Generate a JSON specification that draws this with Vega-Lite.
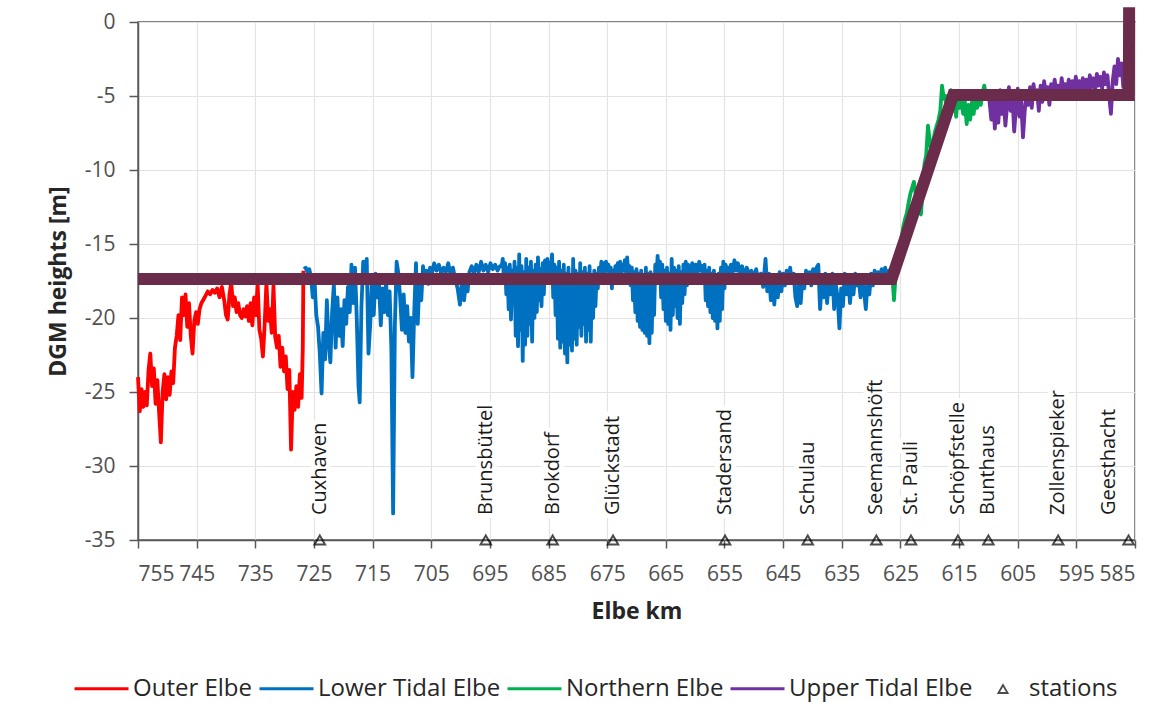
{
  "$schema": "https://vega.github.io/schema/vega-lite/v6.json",
  "width": 997,
  "height": 518,
  "autosize": {"type": "none"},
  "padding": {"left": 138, "top": 22, "right": 22, "bottom": 162},
  "background": "white",
  "config": {
    "font": "Open Sans",
    "view": {"stroke": "#595959", "strokeWidth": 1.5},
    "axis": {
      "grid": true,
      "gridColor": "#e3e3e3",
      "gridWidth": 1.2,
      "domainColor": "#595959",
      "domainWidth": 1.5,
      "tickColor": "#595959",
      "tickWidth": 1.5,
      "labelFontSize": 21,
      "labelColor": "#505050",
      "titleFontSize": 23,
      "titleFontWeight": "bold",
      "titleColor": "#262626",
      "labelExpr": "replace(datum.label, '\u2212', '-')"
    }
  },
  "datasets": {
    "outer": [
      {"k":755.0,"z":-24.0},{"k":754.7,"z":-26.3},{"k":754.4,"z":-24.8},{"k":754.1,"z":-26.0},{"k":753.8,"z":-25.0},{"k":753.5,"z":-25.9},{"k":753.2,"z":-23.5},{"k":752.9,"z":-22.4},{"k":752.6,"z":-24.6},{"k":752.3,"z":-23.4},{"k":752.0,"z":-25.8},{"k":751.7,"z":-24.2},{"k":751.4,"z":-26.4},{"k":751.1,"z":-28.4},{"k":750.8,"z":-25.0},{"k":750.5,"z":-23.8},{"k":750.2,"z":-25.5},{"k":749.9,"z":-24.0},{"k":749.6,"z":-25.2},{"k":749.3,"z":-23.6},{"k":749.0,"z":-24.4},{"k":748.7,"z":-22.0},{"k":748.4,"z":-21.2},{"k":748.1,"z":-19.8},{"k":747.8,"z":-21.5},{"k":747.5,"z":-18.6},{"k":747.2,"z":-19.8},{"k":746.9,"z":-18.4},{"k":746.6,"z":-20.6},{"k":746.3,"z":-19.0},{"k":746.0,"z":-21.2},{"k":745.7,"z":-22.4},{"k":745.4,"z":-20.2},{"k":745.1,"z":-19.6},{"k":744.8,"z":-20.4},{"k":744.5,"z":-19.4},{"k":744.2,"z":-19.0},{"k":743.9,"z":-18.8},{"k":743.5,"z":-18.5},{"k":743.1,"z":-18.2},{"k":742.7,"z":-18.4},{"k":742.3,"z":-18.1},{"k":741.9,"z":-18.3},{"k":741.5,"z":-18.0},{"k":741.1,"z":-18.6},{"k":740.7,"z":-17.9},{"k":740.3,"z":-18.8},{"k":740.0,"z":-19.8},{"k":739.7,"z":-20.1},{"k":739.4,"z":-18.4},{"k":739.1,"z":-17.6},{"k":738.8,"z":-19.2},{"k":738.5,"z":-18.6},{"k":738.2,"z":-19.6},{"k":737.9,"z":-19.0},{"k":737.6,"z":-19.8},{"k":737.3,"z":-20.0},{"k":737.0,"z":-19.4},{"k":736.7,"z":-19.9},{"k":736.4,"z":-19.2},{"k":736.1,"z":-20.2},{"k":735.8,"z":-19.0},{"k":735.5,"z":-20.5},{"k":735.2,"z":-18.6},{"k":734.9,"z":-19.8},{"k":734.6,"z":-17.7},{"k":734.3,"z":-20.8},{"k":734.0,"z":-21.4},{"k":733.7,"z":-22.6},{"k":733.4,"z":-20.4},{"k":733.1,"z":-17.6},{"k":732.8,"z":-20.2},{"k":732.5,"z":-19.4},{"k":732.2,"z":-21.0},{"k":731.9,"z":-17.8},{"k":731.6,"z":-21.3},{"k":731.3,"z":-22.0},{"k":731.0,"z":-21.2},{"k":730.7,"z":-23.3},{"k":730.4,"z":-22.0},{"k":730.1,"z":-23.6},{"k":729.8,"z":-22.6},{"k":729.5,"z":-24.8},{"k":729.2,"z":-23.5},{"k":728.9,"z":-28.9},{"k":728.6,"z":-25.0},{"k":728.3,"z":-26.2},{"k":728.0,"z":-24.6},{"k":727.7,"z":-26.0},{"k":727.4,"z":-23.8},{"k":727.1,"z":-25.4},{"k":726.9,"z":-22.0},{"k":726.8,"z":-16.8}
    ],
    "lower": [
      {"k":726.7,"z":-16.7},{"k":726.4,"z":-16.6},{"k":726.1,"z":-16.9},{"k":725.8,"z":-16.7},{"k":725.5,"z":-17.2},{"k":725.2,"z":-18.6},{"k":724.9,"z":-17.4},{"k":724.6,"z":-19.8},{"k":724.3,"z":-20.6},{"k":724.0,"z":-22.4},{"k":723.7,"z":-25.1},{"k":723.4,"z":-21.0},{"k":723.1,"z":-22.8},{"k":722.8,"z":-18.8},{"k":722.5,"z":-21.6},{"k":722.2,"z":-23.0},{"k":721.9,"z":-19.6},{"k":721.6,"z":-17.7},{"k":721.3,"z":-22.0},{"k":721.0,"z":-18.6},{"k":720.7,"z":-21.2},{"k":720.4,"z":-19.4},{"k":720.1,"z":-21.9},{"k":719.8,"z":-18.8},{"k":719.5,"z":-20.4},{"k":719.2,"z":-17.9},{"k":718.9,"z":-19.6},{"k":718.6,"z":-16.4},{"k":718.3,"z":-19.0},{"k":718.0,"z":-16.6},{"k":717.7,"z":-20.0},{"k":717.4,"z":-24.6},{"k":717.2,"z":-25.7},{"k":716.9,"z":-19.2},{"k":716.6,"z":-16.2},{"k":716.3,"z":-17.4},{"k":716.0,"z":-16.0},{"k":715.7,"z":-22.4},{"k":715.4,"z":-20.4},{"k":715.1,"z":-17.2},{"k":714.8,"z":-19.8},{"k":714.5,"z":-17.0},{"k":714.2,"z":-18.6},{"k":713.9,"z":-17.6},{"k":713.6,"z":-20.5},{"k":713.3,"z":-18.0},{"k":713.0,"z":-19.6},{"k":712.7,"z":-17.5},{"k":712.4,"z":-19.8},{"k":712.1,"z":-18.2},{"k":711.8,"z":-22.0},{"k":711.5,"z":-33.2},{"k":711.2,"z":-20.5},{"k":710.9,"z":-16.2},{"k":710.6,"z":-17.0},{"k":710.3,"z":-18.6},{"k":710.0,"z":-20.8},{"k":709.7,"z":-18.4},{"k":709.4,"z":-21.0},{"k":709.1,"z":-19.2},{"k":708.8,"z":-21.6},{"k":708.5,"z":-20.0},{"k":708.2,"z":-24.0},{"k":707.9,"z":-19.6},{"k":707.6,"z":-16.3},{"k":707.3,"z":-20.4},{"k":707.0,"z":-17.2},{"k":706.7,"z":-18.8},{"k":706.4,"z":-16.5},{"k":706.1,"z":-17.6},{"k":705.8,"z":-16.8},{"k":705.5,"z":-17.7},{"k":705.2,"z":-16.6},{"k":704.9,"z":-17.0},{"k":704.5,"z":-16.3},{"k":704.1,"z":-16.8},{"k":703.7,"z":-16.4},{"k":703.3,"z":-17.0},{"k":702.9,"z":-16.6},{"k":702.5,"z":-16.9},{"k":702.1,"z":-16.3},{"k":701.7,"z":-17.1},{"k":701.3,"z":-16.6},{"k":700.9,"z":-17.4},{"k":700.5,"z":-18.0},{"k":700.1,"z":-19.1},{"k":699.7,"z":-17.2},{"k":699.4,"z":-18.8},{"k":699.1,"z":-17.6},{"k":698.8,"z":-18.2},{"k":698.5,"z":-16.9},{"k":698.1,"z":-16.5},{"k":697.7,"z":-17.0},{"k":697.3,"z":-16.4},{"k":696.9,"z":-16.9},{"k":696.5,"z":-16.2},{"k":696.1,"z":-16.8},{"k":695.7,"z":-16.4},{"k":695.3,"z":-16.9},{"k":694.9,"z":-16.3},{"k":694.5,"z":-16.7},{"k":694.1,"z":-16.4},{"k":693.7,"z":-16.8},{"k":693.3,"z":-16.5},
      {"k":693.0,"z":-16.5},{"k":692.8,"z":-16.0},{"k":692.6,"z":-17.4},{"k":692.4,"z":-16.3},{"k":692.2,"z":-18.4},{"k":692.0,"z":-16.6},{"k":691.8,"z":-19.4},{"k":691.6,"z":-16.4},{"k":691.4,"z":-20.1},{"k":691.2,"z":-16.8},{"k":691.0,"z":-19.0},{"k":690.8,"z":-16.2},{"k":690.6,"z":-21.2},{"k":690.4,"z":-16.6},{"k":690.2,"z":-21.9},{"k":690.0,"z":-15.7},{"k":689.8,"z":-20.8},{"k":689.6,"z":-16.5},{"k":689.4,"z":-22.9},{"k":689.2,"z":-16.9},{"k":689.0,"z":-21.8},{"k":688.8,"z":-16.0},{"k":688.6,"z":-21.2},{"k":688.4,"z":-16.6},{"k":688.2,"z":-20.4},{"k":688.0,"z":-16.2},{"k":687.8,"z":-21.6},{"k":687.6,"z":-16.8},{"k":687.4,"z":-20.0},{"k":687.2,"z":-16.4},{"k":687.0,"z":-19.6},{"k":686.8,"z":-15.9},{"k":686.6,"z":-18.8},{"k":686.4,"z":-16.7},{"k":686.2,"z":-19.2},{"k":686.0,"z":-16.3},{"k":685.8,"z":-18.4},{"k":685.6,"z":-16.1},{"k":685.4,"z":-17.4},{"k":685.2,"z":-16.0},{"k":685.0,"z":-16.9},{"k":684.8,"z":-16.3},{"k":684.6,"z":-17.0},{"k":684.4,"z":-15.7},{"k":684.2,"z":-18.6},{"k":684.0,"z":-16.4},{"k":683.8,"z":-19.8},{"k":683.6,"z":-16.6},{"k":683.4,"z":-21.4},{"k":683.2,"z":-16.2},{"k":683.0,"z":-22.0},{"k":682.8,"z":-16.8},{"k":682.6,"z":-21.6},{"k":682.4,"z":-16.4},{"k":682.2,"z":-22.4},{"k":682.0,"z":-17.0},{"k":681.8,"z":-23.0},{"k":681.6,"z":-16.6},{"k":681.4,"z":-21.8},{"k":681.2,"z":-17.2},{"k":681.0,"z":-22.2},{"k":680.8,"z":-16.0},{"k":680.6,"z":-21.4},{"k":680.4,"z":-16.8},{"k":680.2,"z":-21.8},{"k":680.0,"z":-17.0},{"k":679.8,"z":-20.6},{"k":679.6,"z":-16.3},{"k":679.4,"z":-21.2},{"k":679.2,"z":-16.9},{"k":679.0,"z":-20.4},{"k":678.8,"z":-16.6},{"k":678.6,"z":-21.6},{"k":678.4,"z":-17.0},{"k":678.2,"z":-20.8},{"k":678.0,"z":-16.5},{"k":677.8,"z":-21.6},{"k":677.6,"z":-17.2},{"k":677.4,"z":-20.0},{"k":677.2,"z":-16.8},{"k":677.0,"z":-19.2},{"k":676.8,"z":-17.0},{"k":676.6,"z":-18.0},{"k":676.4,"z":-16.6},{"k":676.2,"z":-17.4},{"k":676.0,"z":-16.2},{"k":675.8,"z":-16.9},{"k":675.6,"z":-16.3},{"k":675.4,"z":-17.0},{"k":675.2,"z":-16.2},{"k":675.0,"z":-16.8},{"k":674.8,"z":-16.4},{"k":674.6,"z":-17.2},{"k":674.4,"z":-16.6},{"k":674.2,"z":-18.0},{"k":674.0,"z":-16.8},{"k":673.8,"z":-17.4},{"k":673.6,"z":-16.5},{"k":673.4,"z":-17.0},{"k":673.2,"z":-16.3},{"k":673.0,"z":-16.9},{"k":672.8,"z":-16.2},{"k":672.6,"z":-17.0},{"k":672.4,"z":-16.4},{"k":672.2,"z":-16.8},{"k":672.0,"z":-16.1},{"k":671.8,"z":-16.9},{"k":671.6,"z":-15.9},{"k":671.4,"z":-17.0},{"k":671.2,"z":-16.5},{"k":671.0,"z":-17.8},{"k":670.8,"z":-16.6},{"k":670.6,"z":-18.8},{"k":670.4,"z":-16.9},{"k":670.2,"z":-19.6},{"k":670.0,"z":-16.7},{"k":669.8,"z":-20.2},{"k":669.6,"z":-17.0},{"k":669.4,"z":-20.6},{"k":669.2,"z":-16.8},{"k":669.0,"z":-20.8},{"k":668.8,"z":-17.2},{"k":668.6,"z":-21.0},{"k":668.4,"z":-16.6},{"k":668.2,"z":-21.2},{"k":668.0,"z":-17.0},{"k":667.8,"z":-21.7},{"k":667.6,"z":-16.9},{"k":667.4,"z":-21.0},{"k":667.2,"z":-17.4},{"k":667.0,"z":-19.8},{"k":666.8,"z":-16.4},{"k":666.6,"z":-17.6},{"k":666.4,"z":-15.8},{"k":666.2,"z":-17.2},{"k":666.0,"z":-16.2},{"k":665.8,"z":-18.6},{"k":665.6,"z":-16.4},{"k":665.4,"z":-19.4},{"k":665.2,"z":-16.8},{"k":665.0,"z":-20.2},{"k":664.8,"z":-16.6},{"k":664.6,"z":-20.4},{"k":664.4,"z":-17.0},{"k":664.2,"z":-20.8},{"k":664.0,"z":-16.0},{"k":663.8,"z":-19.8},{"k":663.6,"z":-16.6},{"k":663.4,"z":-19.2},{"k":663.2,"z":-16.8},{"k":663.0,"z":-20.0},{"k":662.8,"z":-16.5},{"k":662.6,"z":-20.4},{"k":662.4,"z":-16.9},{"k":662.2,"z":-19.0},{"k":662.0,"z":-16.4},{"k":661.8,"z":-18.4},{"k":661.6,"z":-16.2},{"k":661.4,"z":-17.8},{"k":661.2,"z":-16.4},{"k":661.0,"z":-17.0},
      {"k":660.8,"z":-17.0},{"k":660.5,"z":-16.3},{"k":660.2,"z":-16.9},{"k":659.9,"z":-16.4},{"k":659.6,"z":-17.0},{"k":659.3,"z":-16.2},{"k":659.0,"z":-16.8},{"k":658.8,"z":-16.5},{"k":658.6,"z":-17.6},{"k":658.4,"z":-16.4},{"k":658.2,"z":-18.8},{"k":658.0,"z":-16.8},{"k":657.8,"z":-19.2},{"k":657.6,"z":-16.6},{"k":657.4,"z":-19.6},{"k":657.2,"z":-17.0},{"k":657.0,"z":-20.0},{"k":656.8,"z":-16.8},{"k":656.6,"z":-20.2},{"k":656.4,"z":-17.2},{"k":656.2,"z":-20.7},{"k":656.0,"z":-17.0},{"k":655.8,"z":-20.2},{"k":655.6,"z":-16.6},{"k":655.4,"z":-19.4},{"k":655.2,"z":-16.2},{"k":655.0,"z":-18.0},{"k":654.8,"z":-16.4},{"k":654.6,"z":-17.2},{"k":654.4,"z":-16.6},
      {"k":654.2,"z":-17.2},{"k":653.9,"z":-16.4},{"k":653.6,"z":-16.9},{"k":653.3,"z":-16.1},{"k":653.0,"z":-16.8},{"k":652.7,"z":-16.3},{"k":652.4,"z":-17.0},{"k":652.0,"z":-16.5},{"k":651.6,"z":-17.2},{"k":651.2,"z":-16.6},{"k":650.8,"z":-17.0},{"k":650.4,"z":-16.8},{"k":650.0,"z":-17.4},{"k":649.6,"z":-16.7},{"k":649.2,"z":-17.6},{"k":648.8,"z":-17.0},{"k":648.4,"z":-17.9},{"k":648.0,"z":-16.0},{"k":647.7,"z":-18.2},{"k":647.4,"z":-17.0},{"k":647.1,"z":-18.8},{"k":646.8,"z":-17.4},{"k":646.5,"z":-19.1},{"k":646.2,"z":-17.2},{"k":645.9,"z":-18.6},{"k":645.6,"z":-16.9},{"k":645.3,"z":-18.2},{"k":645.0,"z":-17.0},{"k":644.7,"z":-17.8},{"k":644.4,"z":-16.8},{"k":644.1,"z":-17.4},{"k":643.8,"z":-16.6},{"k":643.5,"z":-17.6},{"k":643.2,"z":-17.0},{"k":642.9,"z":-18.6},{"k":642.6,"z":-19.2},{"k":642.3,"z":-17.4},{"k":642.0,"z":-19.0},{"k":641.7,"z":-17.2},{"k":641.4,"z":-18.0},{"k":641.1,"z":-16.8},{"k":640.8,"z":-17.6},{"k":640.5,"z":-16.9},{"k":640.2,"z":-17.8},{"k":639.9,"z":-16.7},{"k":639.6,"z":-17.4},{"k":639.3,"z":-16.6},{"k":639.0,"z":-16.4},{"k":638.7,"z":-19.4},{"k":638.4,"z":-17.6},{"k":638.1,"z":-18.6},{"k":637.8,"z":-17.0},{"k":637.5,"z":-19.0},{"k":637.2,"z":-17.4},{"k":636.9,"z":-18.4},{"k":636.6,"z":-17.0},{"k":636.3,"z":-19.4},{"k":636.0,"z":-17.8},{"k":635.7,"z":-18.6},{"k":635.4,"z":-20.7},{"k":635.1,"z":-18.0},{"k":634.8,"z":-19.2},{"k":634.5,"z":-17.0},{"k":634.2,"z":-18.4},{"k":633.9,"z":-17.2},{"k":633.6,"z":-19.0},{"k":633.3,"z":-17.6},{"k":633.0,"z":-18.4},{"k":632.7,"z":-17.0},{"k":632.4,"z":-17.8},{"k":632.1,"z":-17.4},{"k":631.8,"z":-18.6},{"k":631.5,"z":-17.2},{"k":631.2,"z":-18.2},{"k":630.9,"z":-19.4},{"k":630.6,"z":-17.6},{"k":630.3,"z":-18.4},{"k":630.0,"z":-17.0},{"k":629.7,"z":-17.8},{"k":629.4,"z":-16.8},{"k":629.1,"z":-17.6},{"k":628.8,"z":-16.9},{"k":628.5,"z":-17.4},{"k":628.2,"z":-16.7},{"k":627.9,"z":-17.2},{"k":627.6,"z":-16.6},{"k":627.3,"z":-17.4},{"k":627.0,"z":-16.8},{"k":626.7,"z":-17.6},{"k":626.4,"z":-17.0}
    ],
    "northern": [
      {"k":626.4,"z":-17.0},{"k":626.1,"z":-18.8},{"k":625.9,"z":-17.6},{"k":625.7,"z":-16.0},{"k":625.4,"z":-15.6},{"k":625.1,"z":-15.0},{"k":624.8,"z":-14.6},{"k":624.5,"z":-13.8},{"k":624.2,"z":-13.3},{"k":623.9,"z":-12.9},{"k":623.6,"z":-12.2},{"k":623.3,"z":-11.6},{"k":623.0,"z":-11.2},{"k":622.7,"z":-10.8},{"k":622.4,"z":-11.6},{"k":622.1,"z":-12.0},{"k":621.8,"z":-12.8},{"k":621.5,"z":-13.0},{"k":621.2,"z":-11.4},{"k":620.9,"z":-9.6},{"k":620.6,"z":-9.0},{"k":620.3,"z":-7.0},{"k":620.0,"z":-8.0},{"k":619.7,"z":-8.8},{"k":619.4,"z":-8.0},{"k":619.1,"z":-7.4},{"k":618.8,"z":-7.0},{"k":618.5,"z":-6.6},{"k":618.2,"z":-6.0},{"k":617.9,"z":-4.3},{"k":617.6,"z":-5.2},{"k":617.3,"z":-5.0},{"k":617.0,"z":-6.4},{"k":616.7,"z":-5.4},{"k":616.4,"z":-4.6},{"k":616.1,"z":-6.0},{"k":615.8,"z":-5.2},{"k":615.5,"z":-6.4},{"k":615.2,"z":-5.0},{"k":614.9,"z":-5.8},{"k":614.6,"z":-5.2},{"k":614.3,"z":-6.2},{"k":614.0,"z":-5.4},{"k":613.7,"z":-6.9},{"k":613.4,"z":-5.6},{"k":613.1,"z":-6.6},{"k":612.8,"z":-5.4},{"k":612.5,"z":-6.2},{"k":612.2,"z":-5.0},{"k":611.9,"z":-5.8},{"k":611.6,"z":-4.9},{"k":611.3,"z":-5.6},{"k":611.0,"z":-4.8},{"k":610.7,"z":-4.3},{"k":610.4,"z":-5.0},{"k":610.1,"z":-4.6}
    ],
    "upper": [
      {"k":610.1,"z":-4.6},{"k":609.8,"z":-5.4},{"k":609.5,"z":-6.6},{"k":609.2,"z":-5.0},{"k":608.9,"z":-7.2},{"k":608.6,"z":-5.4},{"k":608.3,"z":-6.8},{"k":608.0,"z":-4.6},{"k":607.7,"z":-6.2},{"k":607.4,"z":-5.2},{"k":607.1,"z":-7.0},{"k":606.8,"z":-5.6},{"k":606.5,"z":-4.4},{"k":606.2,"z":-6.0},{"k":605.9,"z":-5.0},{"k":605.6,"z":-7.4},{"k":605.3,"z":-5.8},{"k":605.0,"z":-4.5},{"k":604.7,"z":-6.4},{"k":604.4,"z":-5.4},{"k":604.1,"z":-7.8},{"k":603.8,"z":-6.0},{"k":603.5,"z":-4.8},{"k":603.2,"z":-5.6},{"k":602.9,"z":-4.4},{"k":602.6,"z":-5.8},{"k":602.3,"z":-4.2},{"k":602.0,"z":-5.2},{"k":601.7,"z":-4.6},{"k":601.4,"z":-6.0},{"k":601.1,"z":-4.3},{"k":600.8,"z":-5.4},{"k":600.5,"z":-4.0},{"k":600.2,"z":-4.9},{"k":599.9,"z":-4.4},{"k":599.6,"z":-5.6},{"k":599.3,"z":-4.2},{"k":599.0,"z":-5.0},{"k":598.7,"z":-3.9},{"k":598.4,"z":-4.8},{"k":598.1,"z":-4.3},{"k":597.8,"z":-5.0},{"k":597.5,"z":-3.8},{"k":597.2,"z":-4.7},{"k":596.9,"z":-4.2},{"k":596.6,"z":-4.9},{"k":596.3,"z":-3.9},{"k":596.0,"z":-4.6},{"k":595.7,"z":-4.0},{"k":595.4,"z":-4.8},{"k":595.1,"z":-3.7},{"k":594.8,"z":-4.5},{"k":594.5,"z":-4.0},{"k":594.2,"z":-5.1},{"k":593.9,"z":-3.8},{"k":593.6,"z":-4.6},{"k":593.3,"z":-3.9},{"k":593.0,"z":-4.8},{"k":592.7,"z":-3.6},{"k":592.4,"z":-4.4},{"k":592.1,"z":-3.8},{"k":591.8,"z":-4.6},{"k":591.5,"z":-3.5},{"k":591.2,"z":-4.3},{"k":590.9,"z":-3.7},{"k":590.6,"z":-4.5},{"k":590.3,"z":-3.4},{"k":590.0,"z":-4.2},{"k":589.7,"z":-3.6},{"k":589.4,"z":-5.0},{"k":589.1,"z":-6.2},{"k":588.8,"z":-4.0},{"k":588.5,"z":-3.0},{"k":588.2,"z":-4.2},{"k":587.9,"z":-2.5},{"k":587.6,"z":-3.6},{"k":587.3,"z":-2.8},{"k":587.0,"z":-4.4},{"k":586.7,"z":-3.0},{"k":586.4,"z":-4.6},{"k":586.1,"z":-5.2},{"k":585.8,"z":-4.8}
    ],
    "profile": [
      {"k":755.0,"z":-17.36},{"k":626.5,"z":-17.36},{"k":616.0,"z":-4.93},{"k":586.05,"z":-4.93},{"k":586.0,"z":1.0}
    ],
    "stations": [
      {"name":"Cuxhaven","k":724.0,"z":-35},{"name":"Brunsbüttel","k":695.7,"z":-35},{"name":"Brokdorf","k":684.3,"z":-35},{"name":"Glückstadt","k":674.0,"z":-35},{"name":"Stadersand","k":654.9,"z":-35},{"name":"Schulau","k":640.8,"z":-35},{"name":"Seemannshöft","k":629.1,"z":-35},{"name":"St. Pauli","k":623.2,"z":-35},{"name":"Schöpfstelle","k":615.2,"z":-35},{"name":"Bunthaus","k":610.0,"z":-35},{"name":"Zollenspieker","k":598.1,"z":-35},{"name":"Geesthacht","k":586.1,"z":-35}
    ]
  },
  "encoding": {
    "x": {
      "field": "k",
      "type": "quantitative",
      "scale": {"domain": [585, 755], "reverse": true, "nice": false, "zero": false},
      "axis": {
        "title": "Elbe km",
        "values": [755, 745, 735, 725, 715, 705, 695, 685, 675, 665, 655, 645, 635, 625, 615, 605, 595, 585],
        "tickSize": 8,
        "labelPadding": 15,
        "titlePadding": 16
      }
    },
    "y": {
      "field": "z",
      "type": "quantitative",
      "scale": {"domain": [-35, 0], "nice": false, "zero": false},
      "axis": {
        "title": "DGM heights [m]",
        "values": [-35, -30, -25, -20, -15, -10, -5, 0],
        "tickSize": 9,
        "labelPadding": 14,
        "titlePadding": 14
      }
    }
  },
  "layer": [
    {
      "data": {"name": "outer"},
      "mark": {"type": "line", "strokeWidth": 3.8, "strokeJoin": "round"},
      "encoding": {
        "color": {
          "datum": "Outer Elbe",
          "type": "nominal",
          "scale": {
            "domain": ["Outer Elbe", "Lower Tidal Elbe", "Northern Elbe", "Upper Tidal Elbe"],
            "range": ["#ff0000", "#0070c0", "#00b050", "#7030a0"]
          },
          "legend": {
            "title": null,
            "orient": "none",
            "direction": "horizontal",
            "legendX": -65,
            "legendY": 638,
            "symbolType": "stroke",
            "symbolSize": 2916,
            "symbolStrokeWidth": 3,
            "labelFontSize": 24,
            "labelOffset": 3,
            "labelColor": "#262626",
            "columnPadding": 0,
            "labelLimit": 400
          }
        }
      }
    },
    {
      "data": {"name": "lower"},
      "mark": {"type": "line", "strokeWidth": 3.8, "strokeJoin": "round"},
      "encoding": {"color": {"datum": "Lower Tidal Elbe", "type": "nominal"}}
    },
    {
      "data": {"name": "northern"},
      "mark": {"type": "line", "strokeWidth": 3.8, "strokeJoin": "round"},
      "encoding": {"color": {"datum": "Northern Elbe", "type": "nominal"}}
    },
    {
      "data": {"name": "upper"},
      "mark": {"type": "line", "strokeWidth": 3.8, "strokeJoin": "round"},
      "encoding": {"color": {"datum": "Upper Tidal Elbe", "type": "nominal"}}
    },
    {
      "data": {"name": "profile"},
      "mark": {"type": "line", "color": "#6b2b4b", "strokeWidth": 12, "strokeCap": "butt", "strokeJoin": "miter"},
      "encoding": {}
    },
    {
      "data": {"name": "stations"},
      "mark": {"type": "point", "filled": false, "stroke": "black", "strokeWidth": 2, "size": 110},
      "encoding": {
        "shape": {
          "datum": "stations",
          "type": "nominal",
          "scale": {"domain": ["stations"], "range": ["triangle-up"]},
          "legend": {
            "title": null,
            "orient": "none",
            "legendX": 853,
            "legendY": 655,
            "symbolSize": 85,
            "symbolStrokeColor": "black",
            "symbolFillColor": "transparent",
            "symbolStrokeWidth": 1.8,
            "labelFontSize": 24,
            "labelOffset": 14,
            "labelColor": "#262626"
          }
        }
      }
    },
    {
      "data": {"name": "stations"},
      "transform": [{"filter": "datum.name != 'Geesthacht'"}],
      "mark": {"type": "text", "angle": 270, "align": "left", "baseline": "middle", "fontSize": 20, "dx": 25, "color": "white", "stroke": "white", "strokeWidth": 10, "strokeJoin": "round"},
      "encoding": {
        "text": {"field": "name", "type": "nominal"}
      }
    },
    {
      "data": {"name": "stations"},
      "transform": [{"filter": "datum.name != 'Geesthacht'"}],
      "mark": {"type": "text", "angle": 270, "align": "left", "baseline": "middle", "fontSize": 20, "dx": 25, "color": "#1a1a1a"},
      "encoding": {
        "text": {"field": "name", "type": "nominal"}
      }
    },
    {
      "data": {"name": "stations"},
      "transform": [{"filter": "datum.name == 'Geesthacht'"}],
      "mark": {"type": "text", "angle": 270, "align": "left", "baseline": "middle", "fontSize": 20, "dx": 25, "dy": -20, "color": "#1a1a1a"},
      "encoding": {
        "text": {"field": "name", "type": "nominal"}
      }
    }
  ]
}
